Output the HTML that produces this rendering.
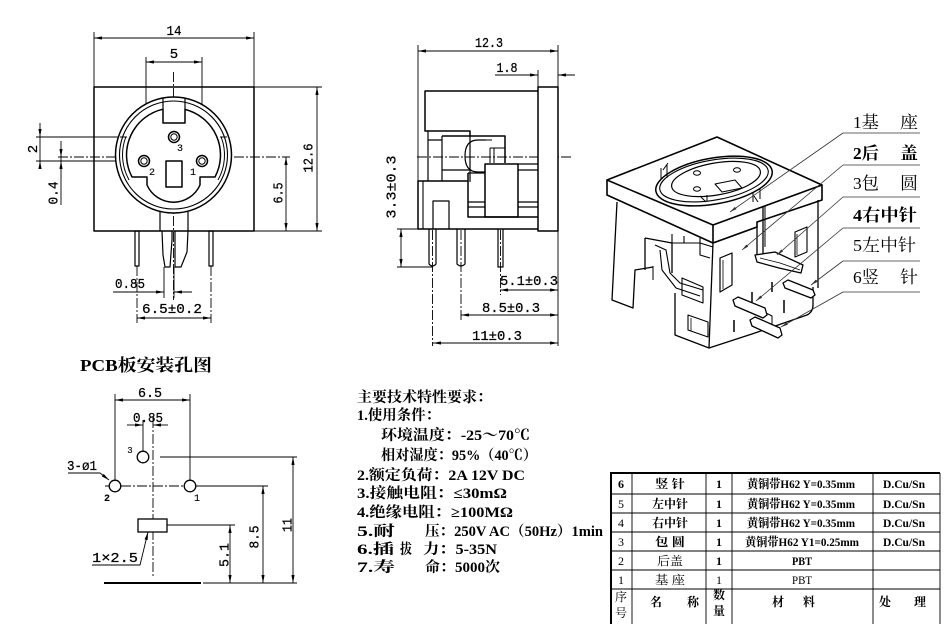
<!DOCTYPE html>
<html><head><meta charset="utf-8"><style>
html,body{margin:0;padding:0;background:#fff;}
svg{display:block;}
.d{font-family:"Liberation Mono","DejaVu Sans Mono",monospace;font-size:14px;fill:#000;stroke:#000;stroke-width:0.25;}
.cj{font-family:"Liberation Serif","Noto Serif CJK SC",serif;fill:#000;}
.b{font-weight:bold;}
</style></head><body>
<svg width="950" height="624" viewBox="0 0 950 624" xmlns="http://www.w3.org/2000/svg">
<defs>
<marker id="ar" viewBox="0 0 10 4" refX="10" refY="2" markerWidth="8" markerHeight="3.2" markerUnits="userSpaceOnUse" orient="auto-start-reverse"><path d="M0,0 L10,2 L0,4 z" fill="#000"/></marker>
<marker id="ag" viewBox="0 0 10 4" refX="10" refY="2" markerWidth="7" markerHeight="3" markerUnits="userSpaceOnUse" orient="auto"><path d="M0,0 L10,2 L0,4 z" fill="#333"/></marker>
</defs>
<rect width="950" height="624" fill="#fff"/>

<!-- ================= FRONT VIEW ================= -->
<g stroke="#000" fill="none" stroke-width="0.9">
  <line x1="94" y1="32" x2="94" y2="87"/>
  <line x1="254" y1="32" x2="254" y2="87"/>
  <line x1="146" y1="57" x2="146" y2="161"/>
  <line x1="202" y1="57" x2="202" y2="161"/>
  <line x1="36" y1="137" x2="172" y2="137"/>
  <line x1="36" y1="161" x2="142" y2="161"/>
  <line x1="254" y1="87" x2="322" y2="87"/>
  <line x1="254" y1="231" x2="322" y2="231"/>
  <line x1="164" y1="267" x2="164" y2="298"/>
  <line x1="174" y1="267" x2="174" y2="298"/>
  <line x1="94" y1="38" x2="254" y2="38" marker-start="url(#ar)" marker-end="url(#ar)"/>
  <line x1="146" y1="62" x2="202" y2="62" marker-start="url(#ar)" marker-end="url(#ar)"/>
  <line x1="40" y1="123" x2="40" y2="137" marker-end="url(#ar)"/>
  <line x1="40" y1="137" x2="40" y2="161"/>
  <line x1="40" y1="168" x2="40" y2="161" marker-end="url(#ar)"/>
  <line x1="61" y1="141" x2="61" y2="157" marker-end="url(#ar)"/>
  <line x1="61" y1="157" x2="61" y2="161"/>
  <line x1="61" y1="205" x2="61" y2="161" marker-end="url(#ar)"/>
  <line x1="317" y1="87" x2="317" y2="231" marker-start="url(#ar)" marker-end="url(#ar)"/>
  <line x1="286" y1="157" x2="286" y2="231" marker-start="url(#ar)" marker-end="url(#ar)"/>
  <line x1="113" y1="292" x2="164" y2="292" marker-end="url(#ar)"/>
  <line x1="192" y1="292" x2="174" y2="292" marker-end="url(#ar)"/>
  <line x1="137" y1="318" x2="211" y2="318" marker-start="url(#ar)" marker-end="url(#ar)"/>
  <g stroke-dasharray="10 2 2 2">
    <line x1="173.5" y1="72" x2="173.5" y2="300"/>
    <line x1="58" y1="157" x2="290" y2="157"/>
    <line x1="137" y1="266" x2="137" y2="323"/>
    <line x1="211" y1="266" x2="211" y2="323"/>
  </g>
</g>
<g stroke="#000" fill="none" stroke-width="1.5" stroke-linejoin="round">
  <rect x="94" y="87" width="160" height="144"/>
  <circle cx="173.5" cy="155" r="58" fill="#fff"/>
  <circle cx="173.5" cy="155" r="54" stroke-width="1.1"/>
  <path d="M163,109.2 A47,47 0 0 0 132,177 L147,177 L147,185 A29,29 0 0 0 200,185 L200,177 L215,177 A47,47 0 0 0 185,109.4 L185,123 L163,123 Z"/>
  <path d="M163,98 L163,109 M185,98 L185,109" stroke-width="1.2"/>
  <path d="M125.8,137 A51,51 0 0 0 129.1,180" stroke-width="1"/>
  <path d="M221.2,137 A51,51 0 0 1 218,180" stroke-width="1"/>
  <path d="M120,137 L127,137 M220,137 L227,137" stroke-width="1"/>
  <circle cx="174" cy="137" r="5.5"/><circle cx="174" cy="137" r="3.2" stroke-width="1"/>
  <circle cx="144" cy="161" r="5.5"/><circle cx="144" cy="161" r="3.2" stroke-width="1"/>
  <circle cx="202" cy="161" r="5.5"/><circle cx="202" cy="161" r="3.2" stroke-width="1"/>
  <rect x="166" y="161" width="16" height="26"/>
  <path d="M160,212 L160,231 M188,212 L188,231" stroke-width="1.2"/>
  <rect x="135" y="231" width="4" height="35" stroke-width="1.2"/>
  <rect x="209" y="231" width="4" height="35" stroke-width="1.2"/>
  <path d="M162,231 L163,255 L165,267 L170,267 L172,240 L172,231" stroke-width="1.2"/>
  <path d="M175,231 L175,267 L181,267 L187,252 L188,231" stroke-width="1.2"/>
</g>
<g class="d">
  <text x="174" y="35" text-anchor="middle" textLength="15" lengthAdjust="spacingAndGlyphs">14</text>
  <text x="174" y="58" text-anchor="middle">5</text>
  <text x="180" y="151" font-size="10" text-anchor="middle" stroke-width="0.1">3</text>
  <text x="152" y="175" font-size="10" text-anchor="middle" stroke-width="0.1">2</text>
  <text x="193" y="175" font-size="10" text-anchor="middle" stroke-width="0.1">1</text>
  <text transform="translate(37,149) rotate(-90)" text-anchor="middle">2</text>
  <text transform="translate(57.5,193) rotate(-90)" text-anchor="middle" textLength="23" lengthAdjust="spacingAndGlyphs">0.4</text>
  <text transform="translate(312.5,158) rotate(-90)" text-anchor="middle" textLength="29" lengthAdjust="spacingAndGlyphs">12.6</text>
  <text transform="translate(282.5,193) rotate(-90)" text-anchor="middle" textLength="21" lengthAdjust="spacingAndGlyphs">6.5</text>
  <text x="130" y="288" text-anchor="middle" textLength="30" lengthAdjust="spacingAndGlyphs">0.85</text>
  <text x="172" y="313" text-anchor="middle" textLength="60" lengthAdjust="spacingAndGlyphs">6.5±0.2</text>
</g>

<!-- ================= SIDE VIEW ================= -->
<g stroke="#000" fill="none" stroke-width="0.9">
  <line x1="418" y1="45" x2="418" y2="181"/>
  <line x1="558" y1="45" x2="558" y2="346"/>
  <line x1="538" y1="70" x2="538" y2="87"/>
  <line x1="418" y1="51" x2="558" y2="51" marker-start="url(#ar)" marker-end="url(#ar)"/>
  <line x1="495" y1="75" x2="538" y2="75" marker-end="url(#ar)"/>
  <line x1="575" y1="75" x2="558" y2="75" marker-end="url(#ar)"/>
  <line x1="397" y1="229" x2="418" y2="229"/>
  <line x1="397" y1="267" x2="433" y2="267"/>
  <line x1="401" y1="229" x2="401" y2="267" marker-start="url(#ar)" marker-end="url(#ar)"/>
  <line x1="500" y1="290" x2="558" y2="290" marker-start="url(#ar)" marker-end="url(#ar)"/>
  <line x1="461" y1="315" x2="558" y2="315" marker-start="url(#ar)" marker-end="url(#ar)"/>
  <line x1="433" y1="343" x2="558" y2="343" marker-start="url(#ar)" marker-end="url(#ar)"/>
  <g stroke-dasharray="10 2 2 2">
    <line x1="417" y1="157" x2="572" y2="157"/>
    <line x1="432.5" y1="230" x2="432.5" y2="346"/>
    <line x1="461" y1="230" x2="461" y2="320"/>
    <line x1="500.5" y1="230" x2="500.5" y2="295"/>
  </g>
</g>
<g stroke="#000" fill="none" stroke-width="1.5" stroke-linejoin="round">
  <rect x="538" y="87" width="20" height="144" fill="#fff"/>
  <path d="M538,91 L425,91 L425,131 L470,131 L470,136"/>
  <path d="M428,131 L428,181 M442,136 L442,181 M428,140 L442,140" stroke-width="1.2"/>
  <path d="M442,136 L505,136 L505,163"/>
  <path d="M470,136 L470,182 M442,170 L470,170" stroke-width="1.2"/>
  <path d="M486,140 L478,140 Q465,140 465,156 Q465,172 478,172 L486,172" stroke-width="1.2"/>
  <path d="M478,140 L492,140 M490,148 L505,148 M490,148 L490,163 M494,148 L494,163" stroke-width="1"/>
  <rect x="485" y="164" width="33" height="53" fill="#fff"/>
  <path d="M518,164 L538,164 M518,170 L538,170 M518,202 L538,202 M518,207 L538,207" stroke-width="1.2"/>
  <path d="M468,173 L485,173 M468,202 L485,202 M468,207 L485,207" stroke-width="1.2"/>
  <path d="M468,181 L418,181 L418,229 L538,229"/>
  <path d="M468,173 L468,217 L538,217"/>
  <line x1="423" y1="181" x2="423" y2="229" stroke-width="1.1"/>
  <path d="M433,229 L433,201 L449,201 L449,229" stroke-width="1.2"/>
  <path d="M429,229 L429,264 Q432.5,268 436,264 L436,229" stroke-width="1.2"/>
  <path d="M457,229 L457,264 Q461,268 465,264 L465,229" stroke-width="1.2"/>
  <path d="M498,229 L498,267 L503,267 L503,229" stroke-width="1.2"/>
</g>
<g class="d">
  <text x="489" y="47" text-anchor="middle" textLength="28" lengthAdjust="spacingAndGlyphs">12.3</text>
  <text x="507" y="72" text-anchor="middle" textLength="21" lengthAdjust="spacingAndGlyphs">1.8</text>
  <text transform="translate(395.5,187) rotate(-90)" text-anchor="middle" textLength="63" lengthAdjust="spacingAndGlyphs">3.3±0.3</text>
  <text x="529" y="285" text-anchor="middle" textLength="58" lengthAdjust="spacingAndGlyphs">5.1±0.3</text>
  <text x="511" y="312" text-anchor="middle" textLength="58" lengthAdjust="spacingAndGlyphs">8.5±0.3</text>
  <text x="497" y="340" text-anchor="middle" textLength="50" lengthAdjust="spacingAndGlyphs">11±0.3</text>
</g>

<!-- ================= 3D VIEW ================= -->
<g stroke="#000" fill="none" stroke-width="1.3" stroke-linejoin="round">
  <!-- right body block (behind) -->
  <path d="M763,203 L763,260 M818,200 L818,288" />
  <path d="M795,232 L807,227 L807,252 L795,257 Z" stroke-width="1.1"/>
  <path d="M797,234 L797,255" stroke-width="0.8"/>
  <!-- left body block -->
  <path d="M617,202 L612,300 L633,308 L635,270 L653,267"/>
  <path d="M645,238 L645,270 M645,238 L672,243"/>
  <!-- bracket on left -->
  <path d="M655,245 L666,250 L670,273 L680,283 L703,290" stroke-width="1.1"/>
  <path d="M660,250 L662,270 L676,288 L700,296" stroke-width="1.1"/>
  <path d="M682,278 L703,287 L703,303 L682,295 Z" stroke-width="1.1"/>
  <path d="M653,266 L653,280" stroke-width="1"/>
  <!-- central body -->
  <path d="M672,243 L672,273 M675,293 L675,335 L709,348 L713,243"/>
  <path d="M672,234 L672,243 M672,243 L700,243 L713,247 M684,236 L684,243 M700,238 L700,255 L710,258" stroke-width="1.1"/>
  <path d="M688,315 L708,322 L708,337 L688,330 Z" stroke-width="1.1"/>
  <path d="M691,318 L691,331" stroke-width="0.8"/>
  <path d="M713,243 L757,227 L757,262"/>
  <path d="M709,348 L755,333 L807,315 Q813,312 813,305 L813,287"/>
  <path d="M720,258 L732,253 L732,285 L720,292 Z" stroke-width="1.2"/>
  <path d="M723,260 L723,289" stroke-width="0.8"/>
  <path d="M765,203 L765,247" stroke-width="1"/>
  <!-- small slots -->
  <path d="M752,292 L752,302 M772,282 L772,292 M784,300 L784,313 M734,320 L734,332" stroke-width="1.5"/>
  <!-- pins -->
  <path d="M755,255 L775,252 L803,265 L801,273 L779,268 L757,262 Z" fill="#fff"/>
  <path d="M760,258 L780,263 L800,270" stroke-width="0.8"/>
  <path d="M783,283 L788,280 L813,290 L815,295 L811,298 L785,288 Z" fill="#fff"/>
  <path d="M733,300 L738,297 L765,308 L767,315 L763,318 L735,306 Z" fill="#fff"/>
  <path d="M750,320 L755,317 L780,328 L782,335 L778,338 L752,326 Z" fill="#fff"/>
  <path d="M766,313 L772,316 L772,324" stroke-width="1"/>
  <!-- top plate -->
  <path d="M607,180 L717,137 L822,185 L713,225 Z" fill="#fff" stroke-width="1.6"/>
  <path d="M607,180 L607,195 L713,243 L713,225" stroke-width="1.6"/>
  <path d="M713,243 L757,227 L757,222 L822,200 L822,185" stroke-width="1.6"/>
  <!-- ring -->
  <ellipse cx="714" cy="181" rx="59" ry="23" transform="rotate(-10 714 181)" fill="#fff" stroke-width="1.5"/>
  <ellipse cx="714" cy="180" rx="55" ry="20" transform="rotate(-10 714 180)" stroke-width="1.1"/>
  <ellipse cx="716" cy="179" rx="45" ry="16" transform="rotate(-10 716 179)" stroke-width="1.2"/>
  <ellipse cx="697" cy="173" rx="3.5" ry="2.2" stroke-width="1"/>
  <ellipse cx="737" cy="170" rx="3.5" ry="2.2" stroke-width="1"/>
  <ellipse cx="697" cy="189" rx="3.5" ry="2.2" stroke-width="1"/>
  <path d="M715,184 L735,180 L742,188 L722,192 Z" stroke-width="1"/>
  <path d="M663,170 L668,163 M754,196 L758,202 M700,196 L706,202" stroke-width="1"/>
  <path d="M661,168 L661,180 M667,165 L667,178 M753,192 L753,202 M760,188 L760,199 M707,195 L707,201" stroke-width="1"/>
</g>
<!-- labels + leaders -->
<g stroke="#333" stroke-width="0.8" fill="none">
  <line x1="843" y1="133" x2="920" y2="133"/>
  <line x1="843" y1="165" x2="920" y2="165"/>
  <line x1="843" y1="197" x2="920" y2="197"/>
  <line x1="843" y1="228" x2="920" y2="228"/>
  <line x1="843" y1="261" x2="920" y2="261"/>
  <line x1="843" y1="292" x2="920" y2="292"/>
  <line x1="843" y1="133" x2="730" y2="212" marker-end="url(#ag)"/>
  <line x1="843" y1="165" x2="742" y2="250" marker-end="url(#ag)"/>
  <line x1="843" y1="197" x2="777" y2="255" marker-end="url(#ag)"/>
  <line x1="843" y1="228" x2="756" y2="301" marker-end="url(#ag)"/>
  <line x1="843" y1="261" x2="811" y2="285" marker-end="url(#ag)"/>
  <line x1="843" y1="292" x2="781" y2="327" marker-end="url(#ag)"/>
</g>
<g class="cj" font-size="17">
  <text x="853" y="128" textLength="26" lengthAdjust="spacingAndGlyphs">1基</text>
  <text x="900" y="128" textLength="18" lengthAdjust="spacingAndGlyphs">座</text>
  <text x="853" y="159" class="b" textLength="26" lengthAdjust="spacingAndGlyphs">2后</text>
  <text x="900" y="159" class="b" textLength="18" lengthAdjust="spacingAndGlyphs">盖</text>
  <text x="853" y="189" textLength="26" lengthAdjust="spacingAndGlyphs">3包</text>
  <text x="900" y="189" textLength="18" lengthAdjust="spacingAndGlyphs">圆</text>
  <text x="853" y="221" class="b" textLength="64" lengthAdjust="spacingAndGlyphs">4右中针</text>
  <text x="853" y="251" textLength="63" lengthAdjust="spacingAndGlyphs">5左中针</text>
  <text x="853" y="283" textLength="26" lengthAdjust="spacingAndGlyphs">6竖</text>
  <text x="900" y="283" textLength="18" lengthAdjust="spacingAndGlyphs">针</text>
</g>

<!-- ================= PCB LAYOUT ================= -->
<text x="80" y="371" class="cj b" font-size="17" textLength="132" lengthAdjust="spacingAndGlyphs">PCB板安装孔图</text>
<g stroke="#000" fill="none" stroke-width="0.9">
  <line x1="115" y1="394" x2="115" y2="480"/>
  <line x1="190" y1="394" x2="190" y2="480"/>
  <line x1="115" y1="400" x2="190" y2="400" marker-start="url(#ar)" marker-end="url(#ar)"/>
  <line x1="143" y1="420" x2="143" y2="452"/>
  <line x1="127" y1="425" x2="143" y2="425" marker-end="url(#ar)"/>
  <line x1="168" y1="425" x2="153" y2="425" marker-end="url(#ar)"/>
  <line x1="160" y1="457" x2="297" y2="457"/>
  <line x1="196" y1="486" x2="268" y2="486"/>
  <line x1="167" y1="525" x2="235" y2="525"/>
  <line x1="203" y1="583" x2="297" y2="583"/>
  <line x1="230" y1="525" x2="230" y2="583" marker-start="url(#ar)" marker-end="url(#ar)"/>
  <line x1="263" y1="486" x2="263" y2="583" marker-start="url(#ar)" marker-end="url(#ar)"/>
  <line x1="293" y1="457" x2="293" y2="583" marker-start="url(#ar)" marker-end="url(#ar)"/>
  <path d="M68,473 L100,473 L109,480" marker-end="url(#ar)"/>
  <path d="M92,565 L140,565 L148,532" marker-end="url(#ar)"/>
  <g stroke-dasharray="10 2 2 2">
    <line x1="153" y1="418" x2="153" y2="578"/>
    <line x1="105" y1="486" x2="196" y2="486"/>
  </g>
</g>
<g stroke="#000" fill="#fff" stroke-width="1.3">
  <circle cx="143" cy="457" r="5.8"/>
  <circle cx="115" cy="486" r="5.8"/>
  <circle cx="190" cy="486" r="5.8"/>
  <rect x="138" y="519" width="29" height="13"/>
</g>
<line x1="104" y1="583" x2="201" y2="583" stroke="#000" stroke-width="2"/>
<g class="d">
  <text x="150" y="397" text-anchor="middle" textLength="24" lengthAdjust="spacingAndGlyphs">6.5</text>
  <text x="148" y="422" text-anchor="middle" textLength="30" lengthAdjust="spacingAndGlyphs">0.85</text>
  <text x="130" y="453" font-size="9" text-anchor="middle" stroke-width="0.1">3</text>
  <text x="107" y="501" font-size="10" font-weight="bold" text-anchor="middle" stroke-width="0.1">2</text>
  <text x="197" y="501" font-size="10" text-anchor="middle" stroke-width="0.1">1</text>
  <text x="67" y="470" textLength="30" lengthAdjust="spacingAndGlyphs">3-ø1</text>
  <text x="92" y="562" textLength="46" lengthAdjust="spacingAndGlyphs">1×2.5</text>
  <text transform="translate(228.5,555) rotate(-90)" text-anchor="middle" textLength="24" lengthAdjust="spacingAndGlyphs">5.1</text>
  <text transform="translate(258.5,537) rotate(-90)" text-anchor="middle" textLength="23" lengthAdjust="spacingAndGlyphs">8.5</text>
  <text transform="translate(291.5,525) rotate(-90)" text-anchor="middle" textLength="14" lengthAdjust="spacingAndGlyphs">11</text>
</g>

<!-- ================= SPECS ================= -->
<g class="cj b" font-size="14.5">
  <text x="357" y="402" textLength="135" lengthAdjust="spacingAndGlyphs">主要技术特性要求：</text>
  <text x="357" y="420" textLength="83" lengthAdjust="spacingAndGlyphs">1.使用条件：</text>
  <text x="381" y="440" textLength="149" lengthAdjust="spacingAndGlyphs">环境温度：-25～70℃</text>
  <text x="381" y="460" textLength="156" lengthAdjust="spacingAndGlyphs">相对湿度：95%（40℃）</text>
  <text x="357" y="480" textLength="168" lengthAdjust="spacingAndGlyphs">2.额定负荷：2A 12V DC</text>
  <text x="357" y="498" textLength="150" lengthAdjust="spacingAndGlyphs">3.接触电阻：≤30mΩ</text>
  <text x="357" y="517" textLength="156" lengthAdjust="spacingAndGlyphs">4.绝缘电阻：≥100MΩ</text>
  <text x="357" y="536" textLength="38" lengthAdjust="spacingAndGlyphs">5.耐</text>
  <text x="425" y="536" textLength="178" lengthAdjust="spacingAndGlyphs">压：250V AC（50Hz）1min</text>
  <text x="357" y="554" textLength="37" lengthAdjust="spacingAndGlyphs">6.插</text>
  <text x="400" y="554" textLength="12" lengthAdjust="spacingAndGlyphs">拔</text>
  <text x="423" y="554" textLength="74" lengthAdjust="spacingAndGlyphs">力：5-35N</text>
  <text x="357" y="572" textLength="38" lengthAdjust="spacingAndGlyphs">7.寿</text>
  <text x="425" y="572" textLength="75" lengthAdjust="spacingAndGlyphs">命：5000次</text>
</g>

<!-- ================= TABLE ================= -->
<g stroke="#000" fill="none">
  <path d="M611,624 L611,473 L940,473" stroke-width="2"/>
  <g stroke-width="0.9">
    <line x1="611" y1="494" x2="940" y2="494"/>
    <line x1="611" y1="513" x2="940" y2="513"/>
    <line x1="611" y1="532" x2="940" y2="532"/>
    <line x1="611" y1="551" x2="940" y2="551"/>
    <line x1="611" y1="570" x2="940" y2="570"/>
    <line x1="611" y1="589" x2="940" y2="589"/>
    <line x1="632" y1="473" x2="632" y2="624"/>
    <line x1="706" y1="473" x2="706" y2="624"/>
    <line x1="732" y1="473" x2="732" y2="624"/>
    <line x1="873" y1="473" x2="873" y2="624"/>
    <line x1="940" y1="473" x2="940" y2="624"/>
  </g>
</g>
<g class="cj" font-size="12" text-anchor="middle">
  <text x="621" y="488" class="b">6</text>
  <text x="621" y="508">5</text>
  <text x="621" y="527">4</text>
  <text x="621" y="546">3</text>
  <text x="621" y="565">2</text>
  <text x="621" y="584">1</text>
  <text x="670" y="488" class="b" textLength="30" lengthAdjust="spacingAndGlyphs">竖 针</text>
  <text x="670" y="508" class="b" textLength="36" lengthAdjust="spacingAndGlyphs">左中针</text>
  <text x="670" y="527" class="b" textLength="36" lengthAdjust="spacingAndGlyphs">右中针</text>
  <text x="670" y="546" class="b" textLength="30" lengthAdjust="spacingAndGlyphs">包 圆</text>
  <text x="670" y="565" textLength="26" lengthAdjust="spacingAndGlyphs">后盖</text>
  <text x="670" y="584" textLength="30" lengthAdjust="spacingAndGlyphs">基 座</text>
  <text x="719" y="488" class="b">1</text>
  <text x="719" y="508" class="b">1</text>
  <text x="719" y="527" class="b">1</text>
  <text x="719" y="546" class="b">1</text>
  <text x="719" y="565" class="b">1</text>
  <text x="719" y="584">1</text>
  <text x="801" y="488" class="b" textLength="108" lengthAdjust="spacingAndGlyphs">黄铜带H62 Y=0.35mm</text>
  <text x="801" y="508" class="b" textLength="108" lengthAdjust="spacingAndGlyphs">黄铜带H62 Y=0.35mm</text>
  <text x="801" y="527" class="b" textLength="108" lengthAdjust="spacingAndGlyphs">黄铜带H62 Y=0.35mm</text>
  <text x="802" y="546" class="b" textLength="114" lengthAdjust="spacingAndGlyphs">黄铜带H62 Y1=0.25mm</text>
  <text x="802" y="565" class="b" textLength="20" lengthAdjust="spacingAndGlyphs">PBT</text>
  <text x="802" y="584" textLength="20" lengthAdjust="spacingAndGlyphs">PBT</text>
  <text x="904" y="488" class="b" textLength="42" lengthAdjust="spacingAndGlyphs">D.Cu/Sn</text>
  <text x="904" y="508" class="b" textLength="42" lengthAdjust="spacingAndGlyphs">D.Cu/Sn</text>
  <text x="904" y="527" class="b" textLength="42" lengthAdjust="spacingAndGlyphs">D.Cu/Sn</text>
  <text x="904" y="546" class="b" textLength="42" lengthAdjust="spacingAndGlyphs">D.Cu/Sn</text>
  <text x="621" y="601">序</text>
  <text x="621" y="617">号</text>
  <text x="656" y="606" class="b">名</text>
  <text x="693" y="606" class="b">称</text>
  <text x="719" y="599" class="b">数</text>
  <text x="719" y="615" class="b">量</text>
  <text x="778" y="606" class="b">材</text>
  <text x="809" y="606" class="b">料</text>
  <text x="885" y="606" class="b">处</text>
  <text x="920" y="606" class="b">理</text>
</g>
</svg>
</body></html>
